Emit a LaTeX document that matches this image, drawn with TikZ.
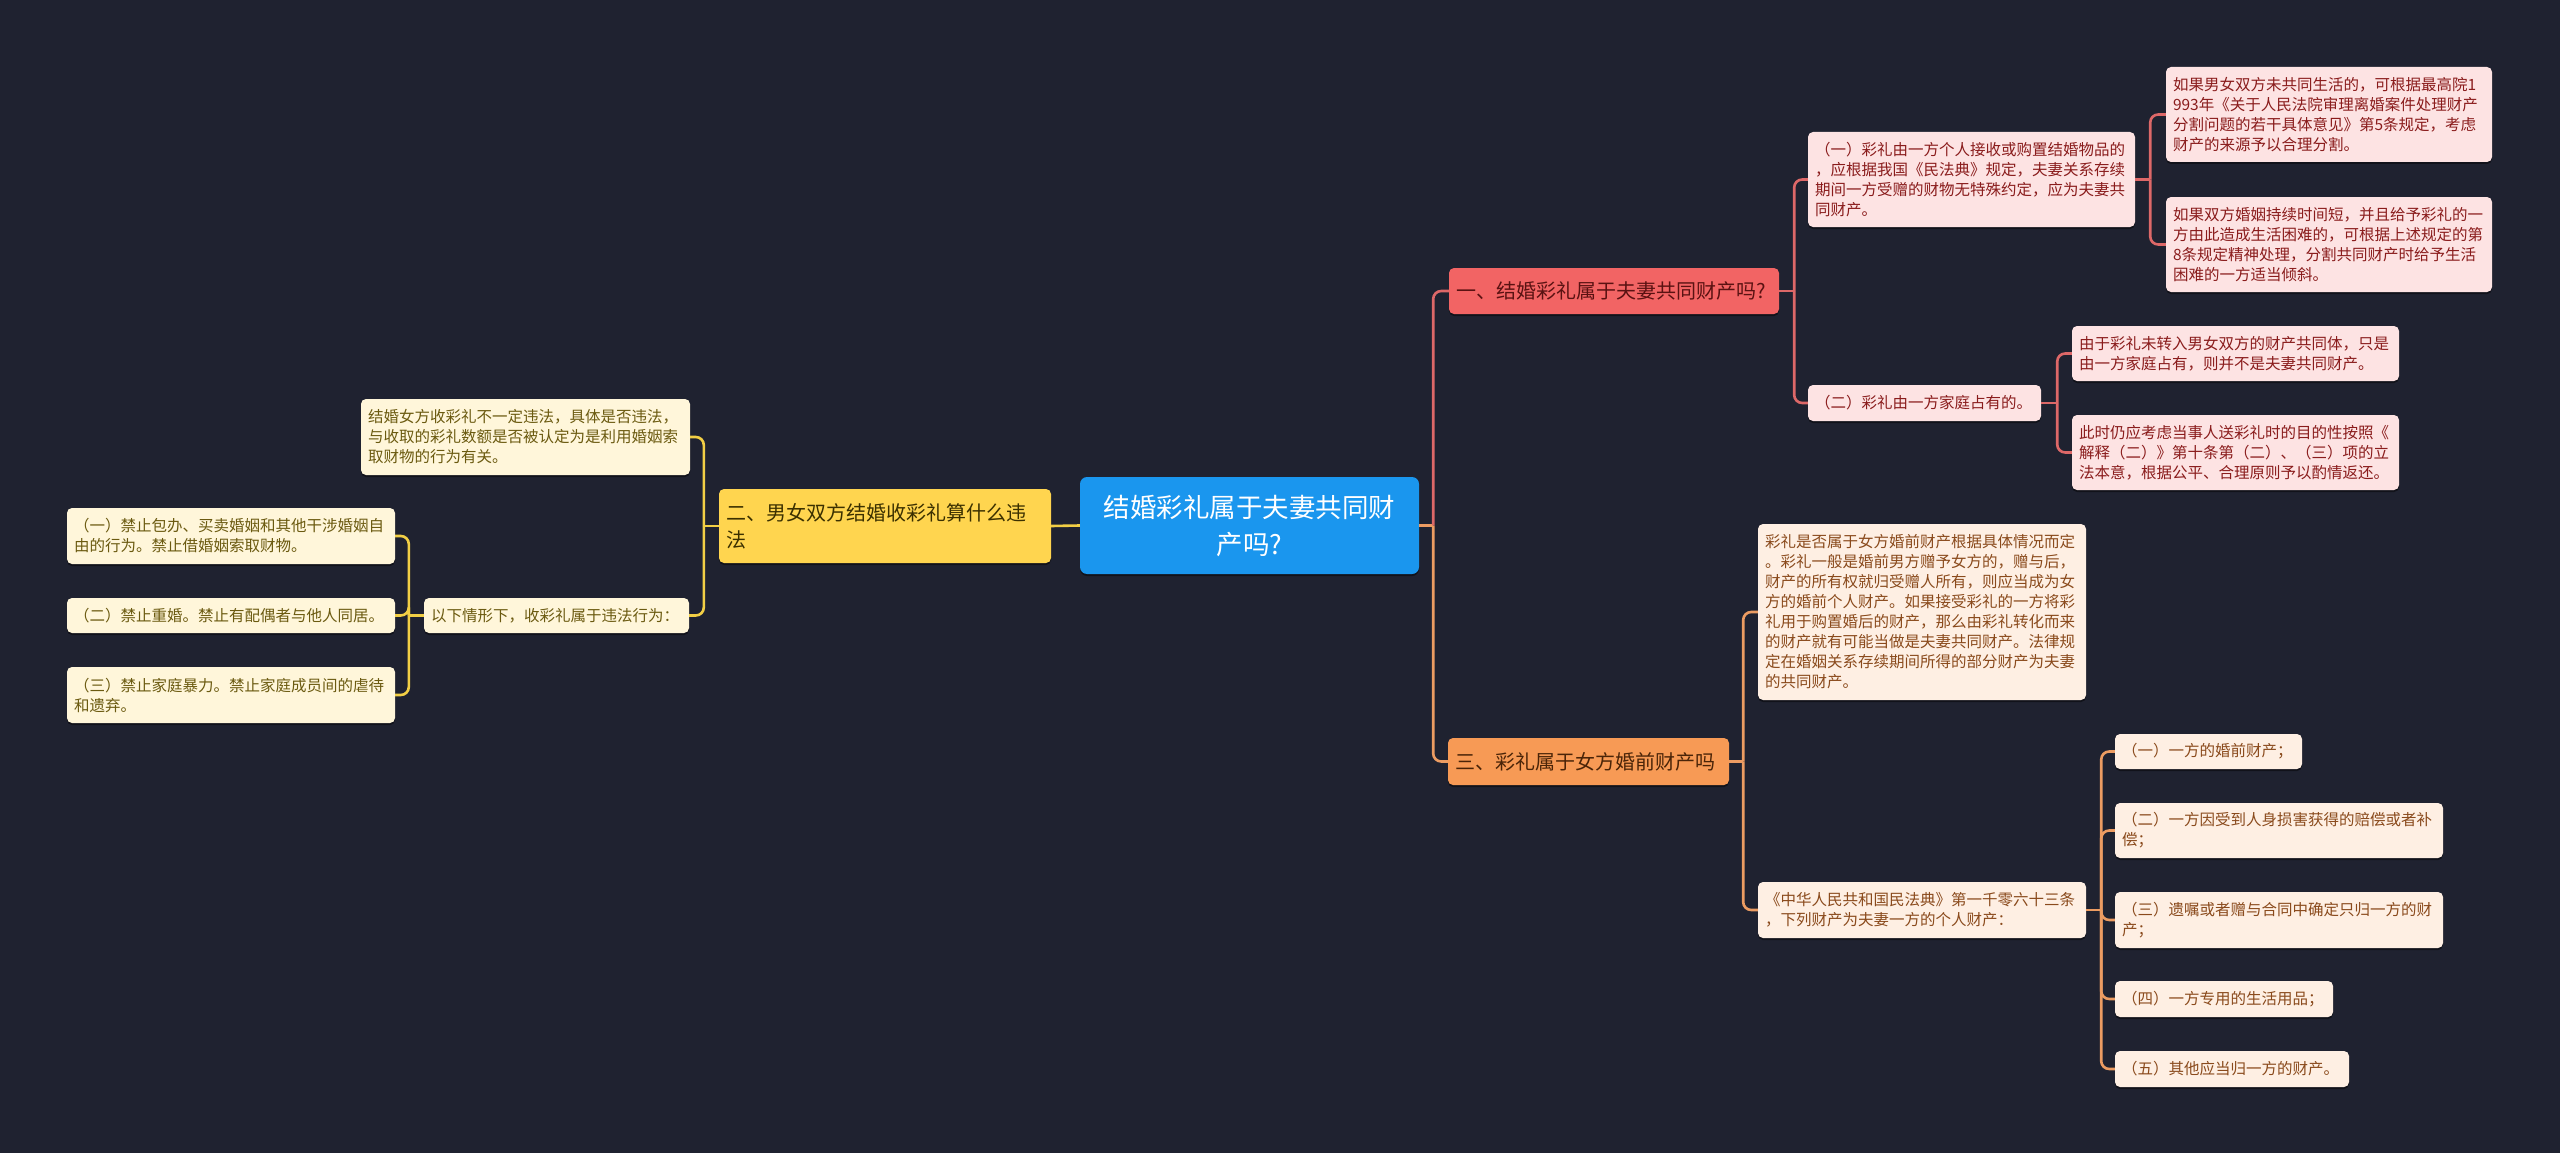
\documentclass[tikz,border=0pt]{standalone}
\usepackage{fontspec}
\newfontfamily\cjk{Noto Sans CJK SC}
\usepackage{xcolor}
\definecolor{mapBg}{HTML}{1F2230}
\definecolor{rootBlue}{HTML}{1A96EE}
\definecolor{redMain}{HTML}{F26464}
\definecolor{redSoft}{HTML}{FDE3E3}
\definecolor{redInk}{HTML}{8A1C1C}
\definecolor{redDark}{HTML}{5A1212}
\definecolor{redLine}{HTML}{DD6868}
\definecolor{orangeMain}{HTML}{F79A55}
\definecolor{orangeSoft}{HTML}{FEEFE3}
\definecolor{orangeInk}{HTML}{8A4A1C}
\definecolor{orangeDark}{HTML}{4A2408}
\definecolor{orangeLine}{HTML}{EC9C62}
\definecolor{yellowMain}{HTML}{FFD54F}
\definecolor{yellowSoft}{HTML}{FFF6DA}
\definecolor{yellowInk}{HTML}{6B5A10}
\definecolor{yellowDark}{HTML}{3B3000}
\definecolor{yellowLine}{HTML}{F2CF45}
\usetikzlibrary{shadows}

\begin{document}
\begin{tikzpicture}[
    x=1pt, y=-1pt,
    % --- estilos de cajas ---
    base/.style={rounded corners=5pt, inner xsep=7pt, inner ysep=0pt, align=left,
                 drop shadow={shadow xshift=0pt, shadow yshift=-2pt, opacity=0.45, fill=black}},
    rootbox/.style={base, rounded corners=7pt, fill=rootBlue, text=white, align=center,
                    font=\cjk\fontsize{26.5}{37}\selectfont},
    topic/.style={base, font=\cjk\fontsize{20}{27}\selectfont},
    leaf/.style={base, font=\cjk\fontsize{15.5}{20}\selectfont},
    redtopic/.style={topic, fill=redMain, text=redDark},
    redleaf/.style={leaf, fill=redSoft, text=redInk},
    orangetopic/.style={topic, fill=orangeMain, text=orangeDark},
    orangeleaf/.style={leaf, fill=orangeSoft, text=orangeInk},
    yellowtopic/.style={topic, fill=yellowMain, text=yellowDark},
    yellowleaf/.style={leaf, fill=yellowSoft, text=yellowInk},
    % --- estilos de conectores ---
    link/.style={line width=2.6pt, rounded corners=8pt},
    redlink/.style={link, redLine},
    orangelink/.style={link, orangeLine},
    yellowlink/.style={link, yellowLine}
]

\fill[mapBg] (0,0) rectangle (2560,1153);
\useasboundingbox (0,0) rectangle (2560,1153);

% ====== Nodo central ======
\node[rootbox, text width=325pt, minimum height=97pt] (Root) at (1249.5,525.5) {结婚彩礼属于夫妻共同财\\产吗?};

% ====== Rama 1: bienes comunes ======
\node[redtopic, text width=316pt, minimum height=46pt] (Common) at (1614,291) {一、结婚彩礼属于夫妻共同财产吗?};

\node[redleaf, text width=313pt, minimum height=95pt] (CommonA) at (1971.5,179.5) {（一）彩礼由一方个人接收或购置结婚物品的\\，应根据我国《民法典》规定，夫妻关系存续\\期间一方受赠的财物无特殊约定，应为夫妻共\\同财产。};
\node[redleaf, text width=312pt, minimum height=95pt] (CommonAa) at (2329,114.5) {如果男女双方未共同生活的，可根据最高院1\\993年《关于人民法院审理离婚案件处理财产\\分割问题的若干具体意见》第5条规定，考虑\\财产的来源予以合理分割。};
\node[redleaf, text width=312pt, minimum height=95pt] (CommonAb) at (2329,244.5) {如果双方婚姻持续时间短，并且给予彩礼的一\\方由此造成生活困难的，可根据上述规定的第\\8条规定精神处理，分割共同财产时给予生活\\困难的一方适当倾斜。};

\node[redleaf, text width=219pt, minimum height=36pt] (CommonB) at (1924.5,403) {（二）彩礼由一方家庭占有的。};
\node[redleaf, text width=313pt, minimum height=55pt] (CommonBa) at (2235.5,353.5) {由于彩礼未转入男女双方的财产共同体，只是\\由一方家庭占有，则并不是夫妻共同财产。};
\node[redleaf, text width=313pt, minimum height=75pt] (CommonBb) at (2235.5,452.5) {此时仍应考虑当事人送彩礼时的目的性按照《\\解释（二）》第十条第（二）、（三）项的立\\法本意，根据公平、合理原则予以酌情返还。};

% ====== Rama 3: bienes prematrimoniales ======
\node[orangetopic, text width=267pt, minimum height=47pt] (Premarital) at (1588.5,761.5) {三、彩礼属于女方婚前财产吗};

\node[orangeleaf, text width=314pt, minimum height=176pt] (PreA) at (1922,612) {彩礼是否属于女方婚前财产根据具体情况而定\\。彩礼一般是婚前男方赠予女方的，赠与后，\\财产的所有权就归受赠人所有，则应当成为女\\方的婚前个人财产。如果接受彩礼的一方将彩\\礼用于购置婚后的财产，那么由彩礼转化而来\\的财产就有可能当做是夫妻共同财产。法律规\\定在婚姻关系存续期间所得的部分财产为夫妻\\的共同财产。};
\node[orangeleaf, text width=314pt, minimum height=56pt] (PreB) at (1922,910) {《中华人民共和国民法典》第一千零六十三条\\，下列财产为夫妻一方的个人财产：};

\node[orangeleaf, text width=173pt, minimum height=35pt] (PreB1) at (2208.5,751.5) {（一）一方的婚前财产；};
\node[orangeleaf, text width=314pt, minimum height=55pt] (PreB2) at (2279,830.5) {（二）一方因受到人身损害获得的赔偿或者补\\偿；};
\node[orangeleaf, text width=314pt, minimum height=56pt] (PreB3) at (2279,920) {（三）遗嘱或者赠与合同中确定只归一方的财\\产；};
\node[orangeleaf, text width=204pt, minimum height=36pt] (PreB4) at (2224,999) {（四）一方专用的生活用品；};
\node[orangeleaf, text width=220pt, minimum height=36pt] (PreB5) at (2232,1069) {（五）其他应当归一方的财产。};

% ====== Rama 2: ilegalidad ======
\node[yellowtopic, text width=318pt, minimum height=74pt] (Illegal) at (885,526) {二、男女双方结婚收彩礼算什么违\\法};

\node[yellowleaf, text width=315pt, minimum height=76pt] (IllA) at (525.5,437) {结婚女方收彩礼不一定违法，具体是否违法，\\与收取的彩礼数额是否被认定为是利用婚姻索\\取财物的行为有关。};
\node[yellowleaf, text width=251pt, minimum height=35pt] (IllB) at (556.5,615.5) {以下情形下，收彩礼属于违法行为：};

\node[yellowleaf, text width=314pt, minimum height=56pt] (IllB1) at (231,536) {（一）禁止包办、买卖婚姻和其他干涉婚姻自\\由的行为。禁止借婚姻索取财物。};
\node[yellowleaf, text width=314pt, minimum height=35pt] (IllB2) at (231,615.5) {（二）禁止重婚。禁止有配偶者与他人同居。};
\node[yellowleaf, text width=314pt, minimum height=56pt] (IllB3) at (231,695) {（三）禁止家庭暴力。禁止家庭成员间的虐待\\和遗弃。};

% ====== Conectores ======
% lado derecho
\draw[orangelink] (Root.east) -- ++(14,0) coordinate (RootT);
\draw[redlink] (RootT) |- (Common.west);
\draw[orangelink] (RootT) |- (Premarital.west);

\draw[redlink] (Common.east) -- ++(15,0) coordinate (CommonT);
\draw[redlink] (CommonT) |- (CommonA.west);
\draw[redlink] (CommonT) |- (CommonB.west);

\draw[redlink] (CommonA.east) -- ++(15,0) coordinate (CommonAT);
\draw[redlink] (CommonAT) |- (CommonAa.west);
\draw[redlink] (CommonAT) |- (CommonAb.west);

\draw[redlink] (CommonB.east) -- ++(16,0) coordinate (CommonBT);
\draw[redlink] (CommonBT) |- (CommonBa.west);
\draw[redlink] (CommonBT) |- (CommonBb.west);

\draw[orangelink] (Premarital.east) -- ++(14,0) coordinate (PreT);
\draw[orangelink] (PreT) |- (PreA.west);
\draw[orangelink] (PreT) |- (PreB.west);

\draw[orangelink] (PreB.east) -- ++(15,0) coordinate (PreBT);
\foreach \n in {1,...,5}
    \draw[orangelink] (PreBT) |- (PreB\n.west);

% lado izquierdo
\draw[yellowlink] (Root.west) -- (Illegal.east);

\draw[yellowlink] (Illegal.west) -- ++(-15,0) coordinate (IllT);
\draw[yellowlink] (IllT) |- (IllA.east);
\draw[yellowlink] (IllT) |- (IllB.east);

\draw[yellowlink] (IllB.west) -- ++(-15,0) coordinate (IllBT);
\foreach \n in {1,2,3}
    \draw[yellowlink] (IllBT) |- (IllB\n.east);

\end{tikzpicture}
\end{document}
